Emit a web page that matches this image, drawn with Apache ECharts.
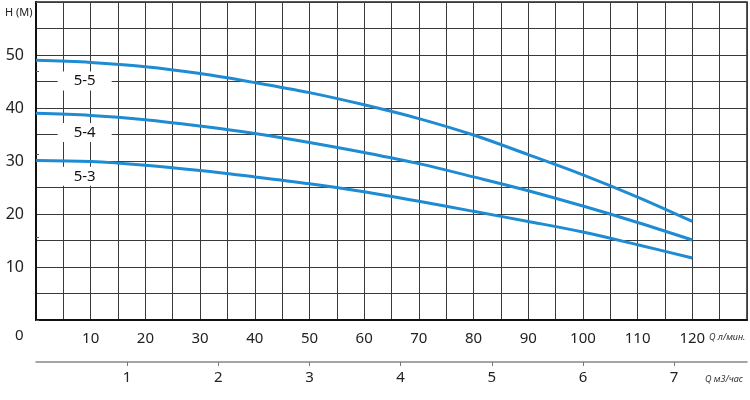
<!DOCTYPE html>
<html>
<head>
<meta charset="utf-8">
<script src="https://cdn.jsdelivr.net/npm/echarts@6/dist/echarts.min.js"></script>
<style>html,body{margin:0;padding:0;background:#fff}#c{width:750px;height:400px}</style>
</head>
<body>
<div id="c"></div>
<script>
// Flow, l/min
var flowLpm = [0, 10, 20, 30, 40, 50, 60, 70, 80, 90, 100, 110, 120];
// Head, m
var head55 = [49.0, 48.6, 47.8, 46.5, 44.8, 42.9, 40.6, 38.0, 34.9, 31.2, 27.4, 23.2, 18.6];
var head54 = [39.0, 38.6, 37.8, 36.6, 35.2, 33.5, 31.6, 29.5, 27.0, 24.4, 21.5, 18.4, 15.1];
var head53 = [30.1, 29.9, 29.2, 28.2, 27.0, 25.7, 24.2, 22.4, 20.5, 18.6, 16.6, 14.2, 11.7];
var seriesNames = ['5-5', '5-4', '5-3'];
var labelFlow = [8.9, 8.9, 8.9];
var labelHead = [45.1, 35.4, 27.1];
var lpmTicks = [10, 20, 30, 40, 50, 60, 70, 80, 90, 100, 110, 120];
var m3hTicks = [1, 2, 3, 4, 5, 6, 7];
var headTicks = [10, 20, 30, 40, 50];

var FONT = 'Noto Sans';
var chart = echarts.init(document.getElementById('c'), null, {renderer: 'canvas'});
function pairs(xs, ys) { return xs.map(function (x, i) { return [x, ys[i]]; }); }
var heads = [head55, head54, head53];
var lineSeries = heads.map(function (h, i) {
  return {
    type: 'line', name: seriesNames[i], xAxisIndex: 0, yAxisIndex: 0,
    data: pairs(flowLpm, h), smooth: 0.35, showSymbol: false, symbol: 'none',
    lineStyle: {color: '#1e8bd3', width: 3}, z: 5
  };
});
var labelSeries = {
  type: 'scatter', xAxisIndex: 0, yAxisIndex: 0, symbolSize: 1, z: 4,
  itemStyle: {opacity: 1, color: '#fff'},
  data: seriesNames.map(function (n, i) { return {name: n, value: [labelFlow[i], labelHead[i]]}; }),
  label: {
    show: true, position: 'inside', formatter: '{b}', color: '#111', opacity: 1,
    fontFamily: FONT, fontSize: 15, backgroundColor: '#fff', padding: [2, 16, 2, 16]
  }
};
chart.setOption({
  animation: false,
  grid: {left: 36, right: 3, top: 2, bottom: 80, show: true, borderColor: '#222', borderWidth: 1.5, backgroundColor: 'transparent'},
  xAxis: [{
    type: 'value', min: 0, max: 130, interval: 5, position: 'bottom',
    axisLine: {show: true, onZero: false, lineStyle: {color: '#111', width: 2}},
    axisTick: {show: false},
    splitLine: {show: true, lineStyle: {color: '#3a3a3a', width: 1}},
    axisLabel: {customValues: lpmTicks, margin: 11, color: '#222', fontFamily: FONT, fontSize: 15}
  }, {
    type: 'value', min: 0, max: 7.8, position: 'bottom', offset: 42,
    axisLine: {show: true, onZero: false, lineStyle: {color: '#888', width: 1.5}},
    axisTick: {show: true, customValues: m3hTicks, length: 4, lineStyle: {color: '#777'}},
    splitLine: {show: false},
    axisLabel: {customValues: m3hTicks, margin: 8, color: '#222', fontFamily: FONT, fontSize: 15}
  }],
  yAxis: [{
    type: 'value', min: 0, max: 60, interval: 5,
    axisLine: {show: true, onZero: false, lineStyle: {color: '#111', width: 2}},
    axisTick: {show: false},
    splitLine: {show: true, lineStyle: {color: '#3a3a3a', width: 1}},
    axisLabel: {customValues: headTicks, margin: 12, color: '#222', fontFamily: FONT, fontSize: 16}
  }, {
    type: 'value', min: 0, max: 191.7, interval: 50, position: 'right',
    axisLine: {show: false}, axisLabel: {show: false}, splitLine: {show: false},
    axisTick: {show: true, length: 3, lineStyle: {color: '#555'}}
  }],
  graphic: [
    {type: 'text', left: 5, top: 7, style: {text: 'H (M)', fontFamily: FONT, fontSize: 11, fill: '#222'}},
    {type: 'text', left: 15, top: 328, style: {text: '0', fontFamily: FONT, fontSize: 15, fill: '#222'}},
    {type: 'text', left: 709, top: 333, style: {text: 'Q л/мин.', fontFamily: FONT, fontSize: 9, fontStyle: 'italic', fill: '#333'}},
    {type: 'text', left: 705, top: 375, style: {text: 'Q м3/час', fontFamily: FONT, fontSize: 9, fontStyle: 'italic', fill: '#333'}}
  ],
  series: lineSeries.concat([labelSeries])
});
</script>
</body>
</html>
